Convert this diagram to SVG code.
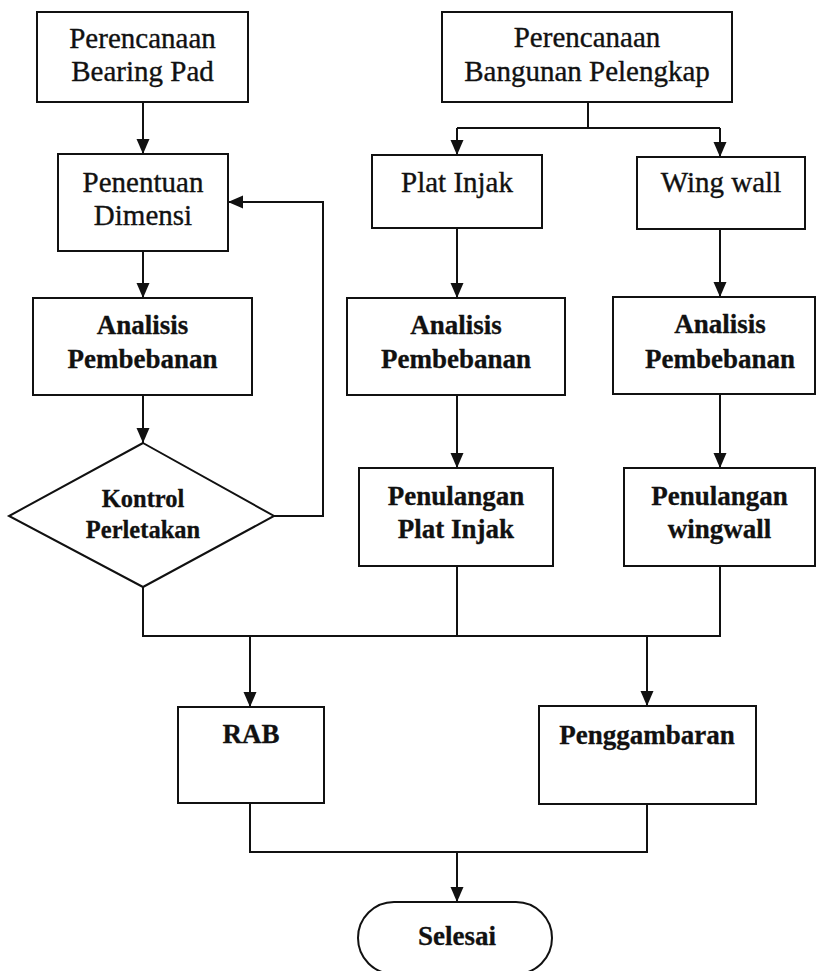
<svg xmlns="http://www.w3.org/2000/svg" width="816" height="971" viewBox="0 0 816 971">
  <style>
    .box { fill: #ffffff; stroke: #111111; stroke-width: 2; }
    .line { fill: none; stroke: #111111; stroke-width: 2; }
    .t { font-family: "Liberation Serif", "Times New Roman", serif; font-size: 29px; fill: #111111; stroke: #111111; stroke-width: 0.35; text-anchor: middle; }
    .b { font-family: "Liberation Serif", "Times New Roman", serif; font-size: 27px; font-weight: bold; fill: #111111; stroke: #111111; stroke-width: 0.3; text-anchor: middle; }
    .s { font-size: 24.5px; }
  </style>
  <defs>
    <marker id="arrow" markerUnits="userSpaceOnUse" markerWidth="16" markerHeight="16" viewBox="0 0 16 16" refX="15" refY="8" orient="auto">
      <path d="M0,1.5 L15,8 L0,14.5 Z" fill="#111111"/>
    </marker>
  </defs>
  <rect x="0" y="0" width="816" height="971" fill="#ffffff"/>

  <!-- connectors -->
  <g id="connectors">
    <path class="line" d="M143,102 V154" marker-end="url(#arrow)"/>
    <path class="line" d="M143,251 V298" marker-end="url(#arrow)"/>
    <path class="line" d="M143,395 V443" marker-end="url(#arrow)"/>
    <path class="line" d="M274,516 H323 V202 H228" marker-end="url(#arrow)"/>
    <path class="line" d="M588,102 V128"/>
    <path class="line" d="M457,128 H720"/>
    <path class="line" d="M457,128 V155" marker-end="url(#arrow)"/>
    <path class="line" d="M720,128 V157" marker-end="url(#arrow)"/>
    <path class="line" d="M457,228 V298" marker-end="url(#arrow)"/>
    <path class="line" d="M720,229 V297" marker-end="url(#arrow)"/>
    <path class="line" d="M457,395 V468" marker-end="url(#arrow)"/>
    <path class="line" d="M720,394 V468" marker-end="url(#arrow)"/>
    <path class="line" d="M143,587 V636 H720 V566"/>
    <path class="line" d="M457,566 V636"/>
    <path class="line" d="M250,636 V707" marker-end="url(#arrow)"/>
    <path class="line" d="M647,636 V706" marker-end="url(#arrow)"/>
    <path class="line" d="M250,803 V852 H647 V804"/>
    <path class="line" d="M457,852 V902" marker-end="url(#arrow)"/>
  </g>

  <g id="bearing-pad">
    <rect class="box" x="37" y="12" width="211" height="90"/>
    <text class="t" x="142.5" y="48">Perencanaan</text>
    <text class="t" x="142.5" y="81">Bearing Pad</text>
  </g>

  <g id="penentuan-dimensi">
    <rect class="box" x="58" y="154" width="170" height="97"/>
    <text class="t" x="143" y="192">Penentuan</text>
    <text class="t" x="143" y="225">Dimensi</text>
  </g>

  <g id="analisis-bearing">
    <rect class="box" x="33" y="298" width="219" height="97"/>
    <text class="b" x="142.5" y="334">Analisis</text>
    <text class="b" x="142.5" y="368">Pembebanan</text>
  </g>

  <g id="kontrol-perletakan">
    <polygon class="box" points="143,443 274,516 143,587 9,516"/>
    <text class="b s" x="143" y="507">Kontrol</text>
    <text class="b s" x="143" y="538">Perletakan</text>
  </g>

  <g id="bangunan-pelengkap">
    <rect class="box" x="442" y="12" width="290" height="90"/>
    <text class="t" x="587" y="47">Perencanaan</text>
    <text class="t" x="587" y="81">Bangunan Pelengkap</text>
  </g>

  <g id="plat-injak">
    <rect class="box" x="372" y="155" width="170" height="73"/>
    <text class="t" x="457" y="192">Plat Injak</text>
  </g>

  <g id="wing-wall">
    <rect class="box" x="637" y="157" width="168" height="72"/>
    <text class="t" x="721" y="192">Wing wall</text>
  </g>

  <g id="analisis-plat">
    <rect class="box" x="347" y="298" width="218" height="97"/>
    <text class="b" x="456" y="334">Analisis</text>
    <text class="b" x="456" y="368">Pembebanan</text>
  </g>

  <g id="analisis-wingwall">
    <rect class="box" x="613" y="297" width="202" height="97"/>
    <text class="b" x="720" y="333">Analisis</text>
    <text class="b" x="720" y="368">Pembebanan</text>
  </g>

  <g id="penulangan-plat">
    <rect class="box" x="359" y="468" width="194" height="98"/>
    <text class="b" x="456" y="505">Penulangan</text>
    <text class="b" x="456" y="538">Plat Injak</text>
  </g>

  <g id="penulangan-wingwall">
    <rect class="box" x="624" y="468" width="191" height="98"/>
    <text class="b" x="719.5" y="505">Penulangan</text>
    <text class="b" x="719.5" y="538">wingwall</text>
  </g>

  <g id="rab">
    <rect class="box" x="178" y="707" width="146" height="96"/>
    <text class="b" x="251" y="743">RAB</text>
  </g>

  <g id="penggambaran">
    <rect class="box" x="539" y="706" width="217" height="98"/>
    <text class="b" x="647" y="744">Penggambaran</text>
  </g>

  <g id="selesai">
    <rect class="box" x="358" y="902" width="194" height="72" rx="36" ry="36"/>
    <text class="b" x="457" y="945">Selesai</text>
  </g>
</svg>
